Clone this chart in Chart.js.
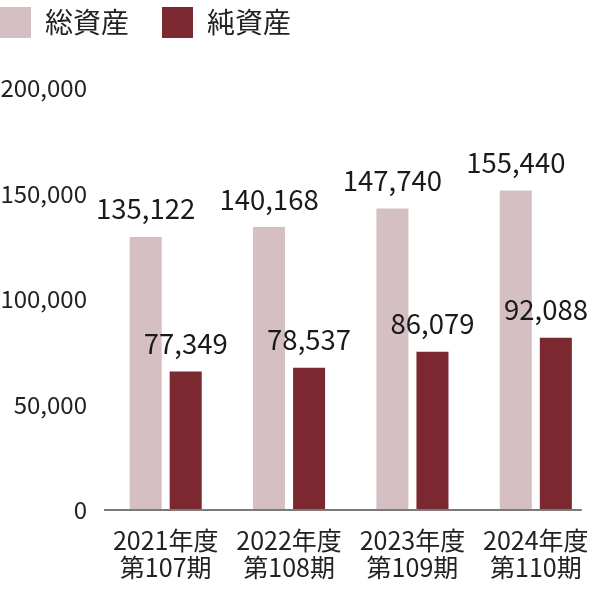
<!DOCTYPE html>
<html>
<head>
<meta charset="utf-8">
<script src="https://cdn.jsdelivr.net/npm/chart.js@4"></script>
<style>
  body { margin: 0; background: #fff; }
  #wrap { width: 600px; height: 590px; }
</style>
</head>
<body>
<div id="wrap"><canvas id="assetChart" width="600" height="590"></canvas></div>
<script>
// 年度ラベル (2行)
const categories = [
  ["2021年度", "第107期"],
  ["2022年度", "第108期"],
  ["2023年度", "第109期"],
  ["2024年度", "第110期"]
];
const seriesNames = ["総資産", "純資産"];

// 棒の高さ
const totalBars = [129400, 134100, 142900, 151400];
const netBars = [65600, 67400, 75000, 81600];

// 棒の上に表示される数値
const totalLabels = ["135,122", "140,168", "147,740", "155,440"];
const netLabels = ["77,349", "78,537", "86,079", "92,088"];

const yTicks = [0, 50000, 100000, 150000, 200000];

const FONT = "'Noto Sans CJK JP', 'Noto Sans', sans-serif";

// 棒の上に数値を描くプラグイン (右端からはみ出さないように寄せる)
const barValueLabels = {
  id: "barValueLabels",
  afterDatasetsDraw(chart) {
    const ctx = chart.ctx;
    const texts = [totalLabels, netLabels];
    const maxRight = chart.width - 12;
    ctx.save();
    ctx.font = "27.5px " + FONT;
    ctx.fillStyle = "#1a1a1a";
    ctx.textAlign = "center";
    ctx.textBaseline = "middle";
    chart.data.datasets.forEach((ds, i) => {
      chart.getDatasetMeta(i).data.forEach((bar, j) => {
        const half = ctx.measureText(texts[i][j]).width / 2;
        const x = Math.min(bar.x, maxRight - half);
        ctx.fillText(texts[i][j], x, bar.y - 28);
      });
    });
    ctx.restore();
  }
};

// 横軸の線 (最後の棒の少し右まで)
const baseLine = {
  id: "baseLine",
  afterDatasetsDraw(chart) {
    const ctx = chart.ctx;
    const last = chart.getDatasetMeta(1).data.at(-1);
    const y = chart.scales.y.getPixelForValue(0);
    ctx.save();
    ctx.strokeStyle = "#7a7a7a";
    ctx.lineWidth = 2;
    ctx.beginPath();
    ctx.moveTo(chart.chartArea.left, y);
    ctx.lineTo(last.x + last.width / 2 + 10, y);
    ctx.stroke();
    ctx.restore();
  }
};

// 凡例とグラフの間を空ける
const legendGap = {
  id: "legendGap",
  beforeInit(chart) {
    const fit = chart.legend.fit;
    chart.legend.fit = function () {
      fit.call(this);
      this.height += 40;
    };
  }
};

const ctx = document.getElementById("assetChart").getContext("2d");
new Chart(ctx, {
  type: "bar",
  data: {
    labels: categories,
    datasets: [
      {
        label: seriesNames[0],
        data: totalBars,
        backgroundColor: "#d6bfc2",
        categoryPercentage: 0.649,
        barPercentage: 0.8
      },
      {
        label: seriesNames[1],
        data: netBars,
        backgroundColor: "#7b2830",
        categoryPercentage: 0.649,
        barPercentage: 0.8
      }
    ]
  },
  options: {
    responsive: false,
    animation: false,
    layout: { padding: { left: -33, right: 2.5, top: -26, bottom: 0 } },
    scales: {
      y: {
        min: 0,
        max: 200000,
        afterBuildTicks: axis => { axis.ticks = yTicks.map(v => ({ value: v })); },
        afterFit: axis => { axis.width = 137; },
        grid: { display: false },
        border: { display: false },
        ticks: {
          padding: 9,
          color: "#222",
          font: { family: FONT, size: 24 },
          callback: v => v.toLocaleString()
        }
      },
      x: {
        grid: { display: false },
        border: { display: false },
        ticks: {
          padding: 9,
          color: "#222",
          maxRotation: 0,
          font: { family: FONT, size: 25, lineHeight: 1.08 }
        }
      }
    },
    plugins: {
      legend: {
        position: "top",
        align: "start",
        labels: {
          boxWidth: 31,
          boxHeight: 31,
          padding: 33,
          color: "#222",
          font: { family: FONT, size: 28 }
        }
      },
      tooltip: { enabled: false }
    }
  },
  plugins: [barValueLabels, baseLine, legendGap]
});
</script>
</body>
</html>
